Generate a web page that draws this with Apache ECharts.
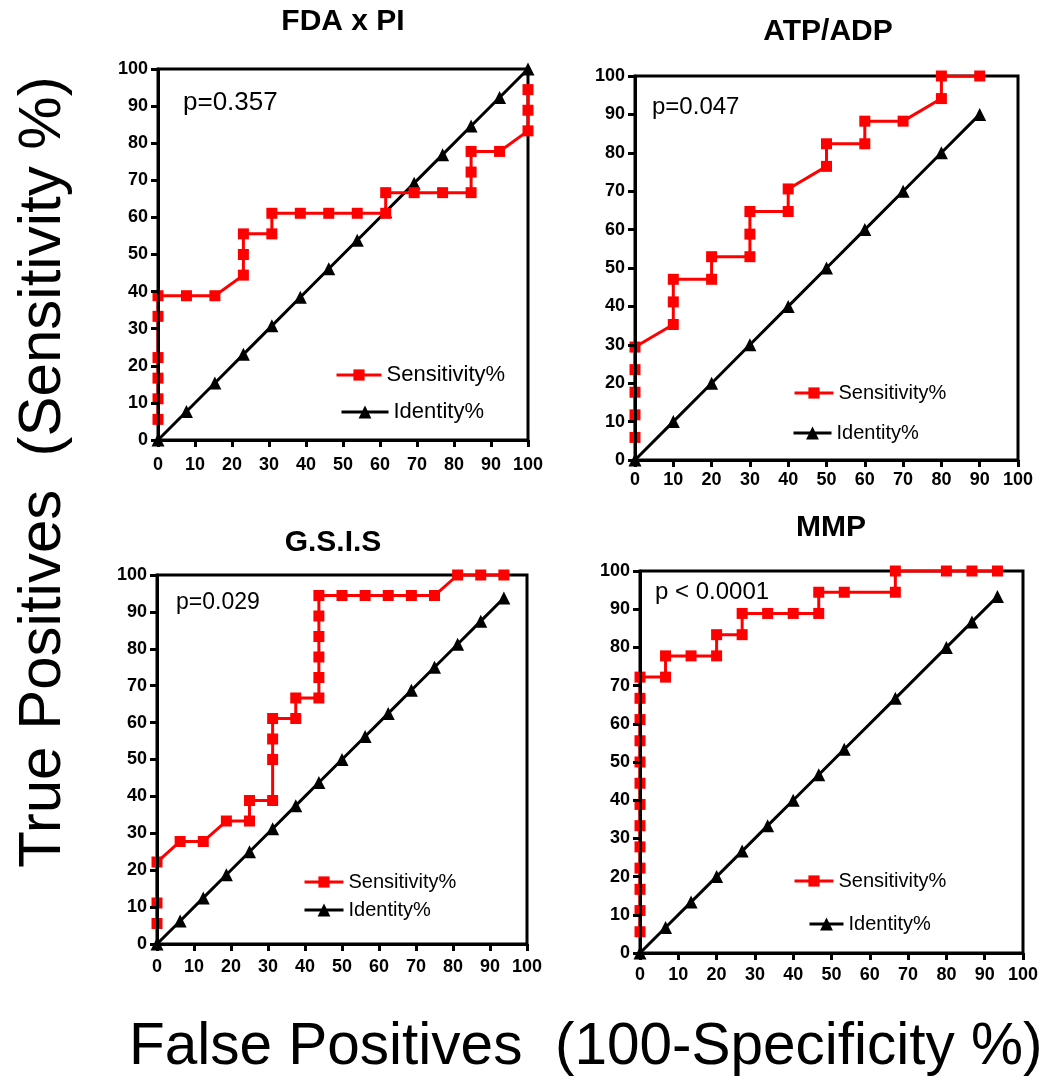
<!DOCTYPE html>
<html>
<head>
<meta charset="utf-8">
<script src="https://cdn.jsdelivr.net/npm/echarts@6/dist/echarts.min.js"></script>
<style>
  html, body { margin: 0; padding: 0; background: #fff; }
  #chart { width: 1043px; height: 1083px; }
</style>
</head>
<body>
<div id="chart"></div>
<script>
// ROC curves: sensitivity (%) against 100 - specificity (%), one panel per assay

const panelTitles = ['FDA x PI', 'ATP/ADP', 'G.S.I.S', 'MMP'];
const pValues = ['p=0.357', 'p=0.047', 'p=0.029', 'p < 0.0001'];
const axisTicks = [0, 10, 20, 30, 40, 50, 60, 70, 80, 90, 100];

// FDA x PI
const fdaSensX = [0, 0, 0, 0, 0, 0, 7.69, 15.38, 23.08, 23.08, 23.08, 30.77, 30.77, 38.46, 46.15, 53.85, 61.54, 61.54, 69.23, 76.92, 84.62, 84.62, 84.62, 92.31, 100, 100, 100];
const fdaSensY = [5.56, 11.11, 16.67, 22.22, 33.33, 38.89, 38.89, 38.89, 44.44, 50, 55.56, 55.56, 61.11, 61.11, 61.11, 61.11, 61.11, 66.67, 66.67, 66.67, 66.67, 72.22, 77.78, 77.78, 83.33, 88.89, 94.44];
const fdaIdent = [0, 7.69, 15.38, 23.08, 30.77, 38.46, 46.15, 53.85, 61.54, 69.23, 76.92, 84.62, 92.31, 100];

// ATP/ADP
const atpSensX = [0, 0, 0, 0, 0, 10, 10, 10, 20, 20, 30, 30, 30, 40, 40, 50, 50, 60, 60, 70, 80, 80, 90];
const atpSensY = [5.88, 11.76, 17.65, 23.53, 29.41, 35.29, 41.18, 47.06, 47.06, 52.94, 52.94, 58.82, 64.71, 64.71, 70.59, 76.47, 82.35, 82.35, 88.24, 88.24, 94.12, 100, 100];
const atpIdent = [0, 10, 20, 30, 40, 50, 60, 70, 80, 90];

// G.S.I.S
const gsisSensX = [0, 0, 0, 6.25, 12.5, 18.75, 25, 25, 31.25, 31.25, 31.25, 31.25, 37.5, 37.5, 43.75, 43.75, 43.75, 43.75, 43.75, 43.75, 50, 56.25, 62.5, 68.75, 75, 81.25, 87.5, 93.75];
const gsisSensY = [5.56, 11.11, 22.22, 27.78, 27.78, 33.33, 33.33, 38.89, 38.89, 50, 55.56, 61.11, 61.11, 66.67, 66.67, 72.22, 77.78, 83.33, 88.89, 94.44, 94.44, 94.44, 94.44, 94.44, 94.44, 100, 100, 100];
const gsisIdent = [0, 6.25, 12.5, 18.75, 25, 31.25, 37.5, 43.75, 50, 56.25, 62.5, 68.75, 75, 81.25, 87.5, 93.75];

// MMP
const mmpSensX = [0, 0, 0, 0, 0, 0, 0, 0, 0, 0, 0, 0, 0, 6.67, 6.67, 13.33, 20, 20, 26.67, 26.67, 33.33, 40, 46.67, 46.67, 53.33, 66.67, 66.67, 80, 86.67, 93.33];
const mmpSensY = [5.56, 11.11, 16.67, 22.22, 27.78, 33.33, 38.89, 44.44, 50, 55.56, 61.11, 66.67, 72.22, 72.22, 77.78, 77.78, 77.78, 83.33, 83.33, 88.89, 88.89, 88.89, 88.89, 94.44, 94.44, 94.44, 100, 100, 100, 100];
const mmpIdent = [0, 6.67, 13.33, 20, 26.67, 33.33, 40, 46.67, 53.33, 66.67, 80, 86.67, 93.33];

const FONT = '"Liberation Sans", Arial, Helvetica, sans-serif';
const RED = '#ff0000';

const panels = [
  { sx: fdaSensX, sy: fdaSensY, id: fdaIdent,
    grid: { left: 158, top: 69, width: 370, height: 371 }, xMargin: 16,
    title: [343, 22], p: [183, 103, 26],
    legSens: [335, 364, 45, 22], legIdent: [340, 401, 47, 22] },
  { sx: atpSensX, sy: atpSensY, id: atpIdent,
    grid: { left: 635, top: 76, width: 383, height: 384 }, xMargin: 11,
    title: [828, 32], p: [652, 107, 24],
    legSens: [793, 383, 39, 20], legIdent: [792, 423, 38, 20] },
  { sx: gsisSensX, sy: gsisSensY, id: gsisIdent,
    grid: { left: 157, top: 575, width: 370, height: 369 }, xMargin: 14,
    title: [333, 543], p: [176, 603, 23],
    legSens: [303, 872, 39, 20], legIdent: [303, 900, 39, 20] },
  { sx: mmpSensX, sy: mmpSensY, id: mmpIdent,
    grid: { left: 640, top: 571, width: 383, height: 382 }, xMargin: 13,
    title: [831, 528], p: [655, 592, 24],
    legSens: [793, 871, 39, 20], legIdent: [808, 914, 34, 20] }
];

function zip(xs, ys) { return xs.map((x, i) => [x, ys[i]]); }

function valueAxis(gridIndex, position, margin) {
  return {
    type: 'value', gridIndex, position, min: 0, max: 100, interval: 10,
    z: 5,
    axisLine: { show: true, onZero: false, lineStyle: { color: '#000', width: 3 } },
    axisTick: { show: true, inside: false, length: 7, lineStyle: { color: '#000', width: 3 } },
    axisLabel: {
      show: true, margin, color: '#000', fontFamily: FONT, fontWeight: 'bold', fontSize: 18,
      formatter: v => (axisTicks.indexOf(v) >= 0 ? String(v) : '')
    },
    splitLine: { show: false }
  };
}

const grids = [], xAxes = [], yAxes = [], series = [], legends = [], texts = [];

panels.forEach((p, i) => {
  grids.push(Object.assign({ show: true, borderColor: '#000', borderWidth: 3, backgroundColor: 'transparent' }, p.grid));
  xAxes.push(valueAxis(i, 'bottom', p.xMargin));
  yAxes.push(valueAxis(i, 'left', 10));

  series.push({
    type: 'line', name: 'Sensitivity%', xAxisIndex: i, yAxisIndex: i,
    data: zip(p.sx, p.sy),
    symbol: 'rect', symbolSize: 11, showAllSymbol: true,
    itemStyle: { color: RED }, lineStyle: { color: RED, width: 3 },
    z: 3
  });
  series.push({
    type: 'line', name: 'Identity%', xAxisIndex: i, yAxisIndex: i,
    data: zip(p.id, p.id),
    symbol: 'triangle', symbolSize: 13, showAllSymbol: true,
    itemStyle: { color: '#000' }, lineStyle: { color: '#000', width: 3 },
    z: 2
  });

  [['Sensitivity%', p.legSens, 14, RED], ['Identity%', p.legIdent, 16, '#000']].forEach(([name, L, h, c]) => {
    legends.push({
      data: [name], left: L[0], top: L[1], itemWidth: L[2], itemHeight: h,
      padding: 0, selectedMode: false, orient: 'horizontal',
      lineStyle: { width: 3, color: c },
      textStyle: { color: '#000', fontFamily: FONT, fontSize: L[3] }
    });
  });

  texts.push({
    type: 'text', x: p.title[0], y: p.title[1],
    style: { text: panelTitles[i], fill: '#000', font: 'bold 30px ' + FONT, align: 'center', verticalAlign: 'middle' }
  });
  texts.push({
    type: 'text', x: p.p[0], y: p.p[1],
    style: { text: pValues[i], fill: '#000', font: p.p[2] + 'px ' + FONT, align: 'left', verticalAlign: 'middle' }
  });
});

// shared axis titles
texts.push({
  type: 'text', x: 43, y: 472, rotation: Math.PI / 2,
  style: { text: 'True Positives  (Sensitivity %)', fill: '#000', font: '60px ' + FONT, align: 'center', verticalAlign: 'middle' }
});
texts.push({
  type: 'text', x: 129, y: 1048,
  style: { text: 'False Positives  (100-Specificity %)', fill: '#000', font: '58.5px ' + FONT, align: 'left', verticalAlign: 'middle' }
});

const chart = echarts.init(document.getElementById('chart'), null, { renderer: 'canvas' });
chart.setOption({
  animation: false,
  backgroundColor: '#fff',
  grid: grids,
  xAxis: xAxes,
  yAxis: yAxes,
  legend: legends,
  series,
  graphic: texts
});
</script>
</body>
</html>
